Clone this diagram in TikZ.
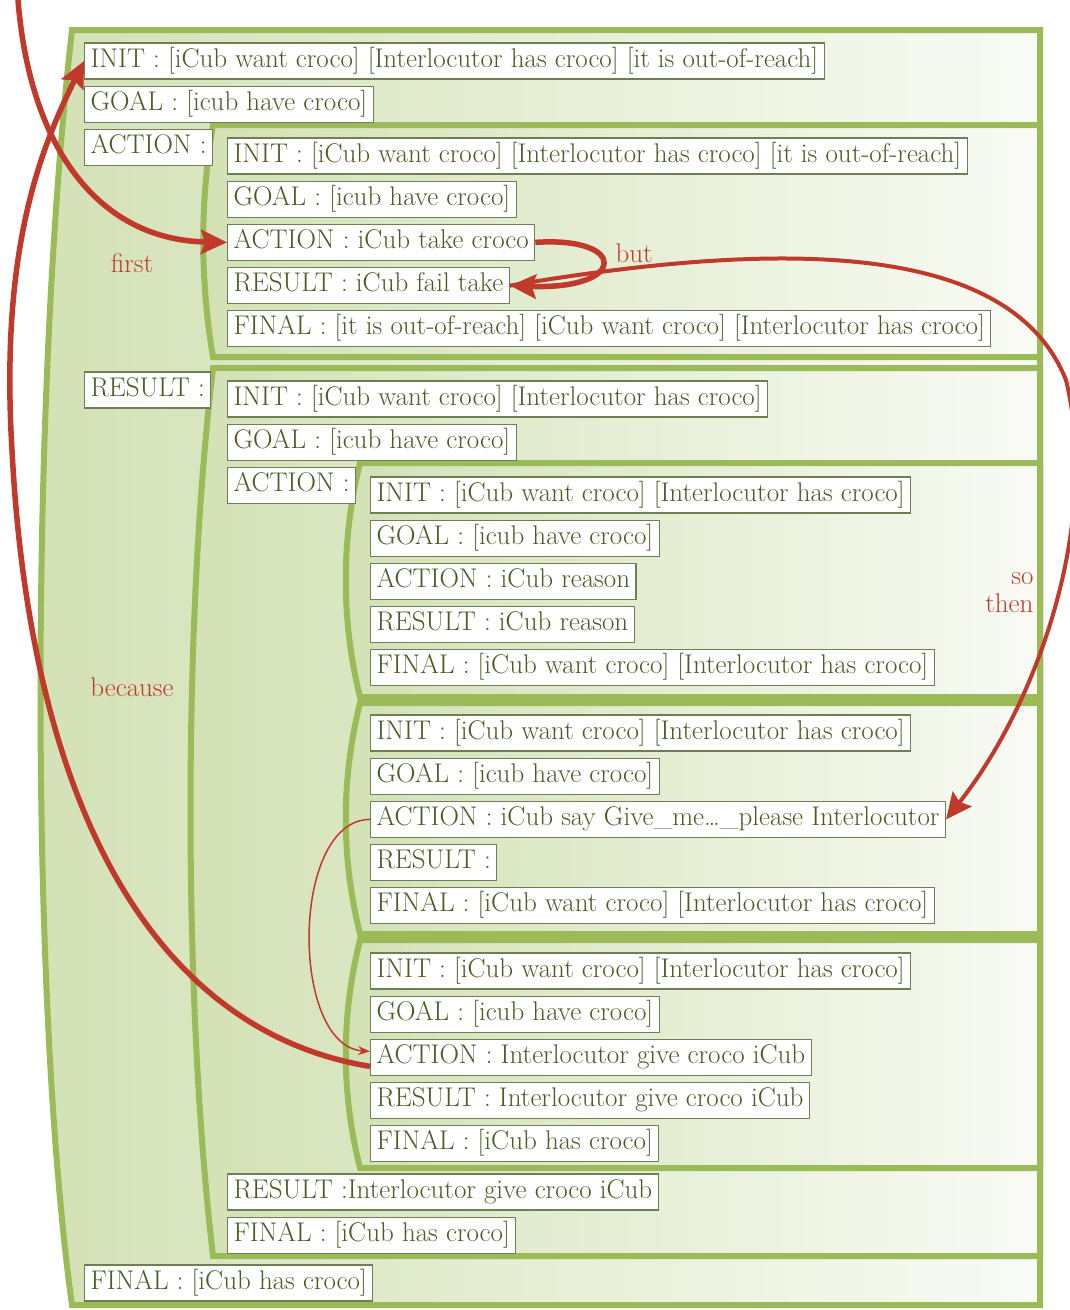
\documentclass[tikz,border=0pt]{standalone}
\usepackage{fontspec}
\usetikzlibrary{arrows.meta,positioning}

\definecolor{framegreen}{HTML}{9BBB59}
\definecolor{fillgreen}{HTML}{D3E1B5}
\definecolor{fillwhite}{HTML}{F9FBF5}
\definecolor{textgreen}{HTML}{4A5C24}
\definecolor{boxline}{HTML}{6F7F55}
\definecolor{arrowred}{HTML}{C0392B}

\tikzset{
  frame/.style={draw=framegreen,line width=6pt,left color=fillgreen,right color=fillwhite},
  box/.style={draw=boxline,fill=white,text=textgreen,line width=1.2pt,anchor=west,
    inner xsep=6pt,minimum height=36pt,text height=19pt,text depth=7pt},
  link/.style={draw=arrowred,line width=5.5pt},
  word/.style={text=arrowred}
}

\begin{document}
\begin{tikzpicture}[x=1pt,y=-1pt,>={Stealth[length=26pt,width=24pt,inset=4pt]},
        font=\fontsize{27}{28}\selectfont,node distance=6pt]

  \fill[white] (0,0) rectangle (1070,1310);
  \useasboundingbox (0,0) rectangle (1070,1310);

  % frames
  \path[frame] (72,30) -- (1040,30) -- (1040,1305) -- (72,1305) .. controls (30,1000) and (30,400) .. cycle;
  \path[frame] (213,125) -- (1040,125) -- (1040,357) -- (213,357) .. controls (200,280) and (200,200) .. cycle;
  \path[frame] (213,368) -- (1040,368) -- (1040,1256) -- (213,1256) .. controls (183,1000) and (183,620) .. cycle;
  \path[frame] (360,463) -- (1040,463) -- (1040,697) -- (360,697) .. controls (341,620) and (341,540) .. cycle;
  \path[frame] (360,703) -- (1040,703) -- (1040,934) -- (360,934) .. controls (341,857) and (341,780) .. cycle;
  \path[frame] (360,940) -- (1040,940) -- (1040,1168) -- (360,1168) .. controls (341,1092) and (341,1016) .. cycle;

  % outer level
  \node[box] (init_0) at (84,61) {INIT : [iCub want croco] [Interlocutor has croco] [it is out-of-reach]};
  \node[box] (goal_0) [below=of init_0.south west,anchor=north west] {GOAL : [icub have croco]};
  \node[box] (act_0) [below=of goal_0.south west,anchor=north west] {ACTION :};
  \node[box] (res_0) at (84,390) {RESULT :};
  \node[box] (fin_0) at (84,1283) {FINAL : [iCub has croco]};

  % action frame
  \node[box] (init_1) at (227,156) {INIT : [iCub want croco] [Interlocutor has croco] [it is out-of-reach]};
  \node[box] (goal_1) [below=of init_1.south west,anchor=north west] {GOAL : [icub have croco]};
  \node[box] (act_1) [below=of goal_1.south west,anchor=north west] {ACTION : iCub take croco};
  \node[box] (res_1) [below=of act_1.south west,anchor=north west] {RESULT : iCub fail take};
  \node[box] (fin_1) [below=of res_1.south west,anchor=north west] {FINAL : [it is out-of-reach] [iCub want croco] [Interlocutor has croco]};

  % result frame
  \node[box] (init_2) at (227,399) {INIT : [iCub want croco] [Interlocutor has croco]};
  \node[box] (goal_2) [below=of init_2.south west,anchor=north west] {GOAL : [icub have croco]};
  \node[box] (act_2) [below=of goal_2.south west,anchor=north west] {ACTION :};
  \node[box] (res_2) at (227,1192) {RESULT :Interlocutor give croco iCub};
  \node[box] (fin_2) [below=of res_2.south west,anchor=north west] {FINAL : [iCub has croco]};

  \node[box] (init_a) at (370,495) {INIT : [iCub want croco] [Interlocutor has croco]};
  \node[box] (goal_a) [below=of init_a.south west,anchor=north west] {GOAL : [icub have croco]};
  \node[box] (act_a) [below=of goal_a.south west,anchor=north west] {ACTION : iCub reason};
  \node[box] (res_a) [below=of act_a.south west,anchor=north west] {RESULT : iCub reason};
  \node[box] (fin_a) [below=of res_a.south west,anchor=north west] {FINAL : [iCub want croco] [Interlocutor has croco]};

  \node[box] (init_b) at (370,733) {INIT : [iCub want croco] [Interlocutor has croco]};
  \node[box] (goal_b) [below=of init_b.south west,anchor=north west] {GOAL : [icub have croco]};
  \node[box] (act_b) [below=of goal_b.south west,anchor=north west] {ACTION : iCub say Give\_me\ldots\_please Interlocutor};
  \node[box] (res_b) [below=of act_b.south west,anchor=north west] {RESULT :};
  \node[box] (fin_b) [below=of res_b.south west,anchor=north west] {FINAL : [iCub want croco] [Interlocutor has croco]};

  \node[box] (init_c) at (370,971) {INIT : [iCub want croco] [Interlocutor has croco]};
  \node[box] (goal_c) [below=of init_c.south west,anchor=north west] {GOAL : [icub have croco]};
  \node[box] (act_c) [below=of goal_c.south west,anchor=north west] {ACTION : Interlocutor give croco iCub};
  \node[box] (res_c) [below=of act_c.south west,anchor=north west] {RESULT : Interlocutor give croco iCub};
  \node[box] (fin_c) [below=of res_c.south west,anchor=north west] {FINAL : [iCub has croco]};

  % labels
  \node[word] (first) at (132,263) {first};
  \node[word] (because) at (132,687) {because};
  \node[word,anchor=west] (but) at (612,253) {but};
  \node[word,align=right,anchor=east] (sothen) at (1037,593) {so\\then};

  % arrows
  \coordinate (top) at (18,0);
  \draw[link,->] (top) .. controls (30,150) and (100,240) .. (act_1.west);
  \draw[link,->] (act_1.east) .. controls (628,236) and (628,290) .. (res_1.east);
  \draw[link,line width=4pt,->] (res_1.east) .. controls (780,240) and (1010,240) .. (1066,380)
        .. controls (1100,520) and (1040,700) .. (act_b.east);
  \draw[draw=arrowred,line width=1.5pt,-{Stealth[length=12pt,width=9pt]}]
        (act_b.west) .. controls (290,820) and (290,1046) .. ([yshift=6pt]act_c.west);
  \draw[link,->] ([yshift=-9pt]act_c.west) .. controls (150,1030) and (30,800) .. (12,450)
        .. controls (0,250) and (40,150) .. (init_0.west);

\end{tikzpicture}
\end{document}
